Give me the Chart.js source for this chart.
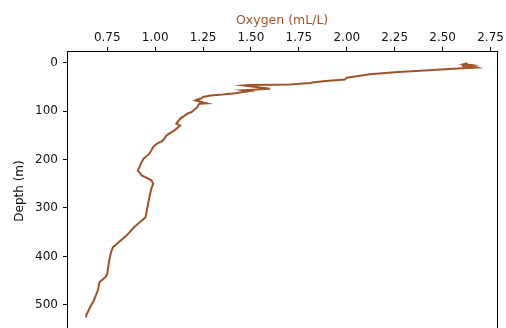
<!DOCTYPE html>
<html>
<head>
<meta charset="utf-8">
<script src="https://cdn.jsdelivr.net/npm/chart.js@4/dist/chart.umd.min.js"></script>
<style>
  html, body { margin: 0; padding: 0; background: #fff; overflow: hidden; }
  #wrap { width: 506px; height: 360px; }
</style>
</head>
<body>
<div id="wrap"><canvas id="c" width="506" height="360"></canvas></div>
<script>
// Dissolved oxygen profile (mL/L) against depth (m)
const depth = [1, 3, 5, 7, 8, 10, 12, 20, 24, 31, 35, 38, 41, 42, 45, 46, 47, 54, 57, 59, 61, 63, 66, 68, 71, 74, 76, 78, 84, 85, 92, 99, 102, 105, 116, 126, 130, 140, 150, 161, 167, 174, 188, 198, 205, 223, 233, 243, 250, 260, 278, 298, 319, 326, 340, 357, 371, 381, 391, 409, 436, 443, 453, 471, 491, 505, 522, 526];
const oxygen = [2.63, 2.61, 2.65, 2.60, 2.66, 2.68, 2.58, 2.25, 2.12, 2.00, 1.99, 1.89, 1.82, 1.81, 1.70, 1.49, 1.46, 1.60, 1.46, 1.49, 1.45, 1.42, 1.35, 1.29, 1.25, 1.24, 1.22, 1.21, 1.27, 1.23, 1.22, 1.20, 1.19, 1.17, 1.13, 1.11, 1.13, 1.10, 1.06, 1.04, 1.01, 0.99, 0.97, 0.94, 0.93, 0.91, 0.93, 0.98, 0.99, 0.98, 0.97, 0.96, 0.95, 0.93, 0.89, 0.85, 0.81, 0.78, 0.77, 0.76, 0.75, 0.74, 0.71, 0.70, 0.68, 0.66, 0.64, 0.64];
const oxygenTicks = [0.75, 1.00, 1.25, 1.50, 1.75, 2.00, 2.25, 2.50, 2.75];
const depthTicks = [0, 100, 200, 300, 400, 500];

const lineColor = '#a0522d';
const font = { family: 'DejaVu Sans', size: 12 };

// Full box around the plotting area
const frame = {
  id: 'frame',
  afterDraw(chart) {
    const { ctx, chartArea: a } = chart;
    ctx.save();
    ctx.strokeStyle = '#000';
    ctx.lineWidth = 1;
    ctx.strokeRect(Math.round(a.left) + 0.5, Math.round(a.top) + 0.5,
                   Math.round(a.right - a.left), Math.round(a.bottom - a.top));
    ctx.restore();
  }
};

new Chart(document.getElementById('c'), {
  type: 'scatter',
  data: {
    datasets: [{
      data: depth.map((d, i) => ({ x: oxygen[i], y: d })),
      showLine: true,
      borderColor: lineColor,
      borderWidth: 2,
      pointRadius: 0,
      tension: 0
    }]
  },
  options: {
    responsive: false,
    devicePixelRatio: 1,
    animation: false,
    layout: { padding: { left: 0, top: 0, right: 6, bottom: 29 } },
    plugins: { legend: { display: false }, tooltip: { enabled: false } },
    scales: {
      x: {
        type: 'linear',
        position: 'top',
        min: 0.54,
        max: 2.785,
        afterBuildTicks: s => { s.ticks = oxygenTicks.map(v => ({ value: v })); },
        afterFit: s => { s.height = 51; },
        ticks: { font, color: '#111', padding: 2, maxRotation: 0,
                 callback: v => Number(v).toFixed(2) },
        grid: { display: true, drawOnChartArea: false, drawTicks: true,
                tickLength: 4, color: '#000', lineWidth: 1 },
        border: { display: false },
        title: { display: true, text: 'Oxygen (mL/L)', color: lineColor,
                 font: { family: 'DejaVu Sans', size: 12.5 },
                 padding: { top: 13, bottom: 0 } }
      },
      y: {
        type: 'linear',
        reverse: true,
        min: -24,
        max: 554,
        afterBuildTicks: s => { s.ticks = depthTicks.map(v => ({ value: v })); },
        afterFit: s => { s.width = 67; },
        ticks: { font, color: '#111', padding: 5, callback: v => String(v) },
        grid: { display: true, drawOnChartArea: false, drawTicks: true,
                tickLength: 4, color: '#000', lineWidth: 1 },
        border: { display: false },
        title: { display: true, text: 'Depth (m)', color: '#111', font,
                 padding: { top: 13, bottom: 0 } }
      }
    }
  },
  plugins: [frame]
});
</script>
</body>
</html>
